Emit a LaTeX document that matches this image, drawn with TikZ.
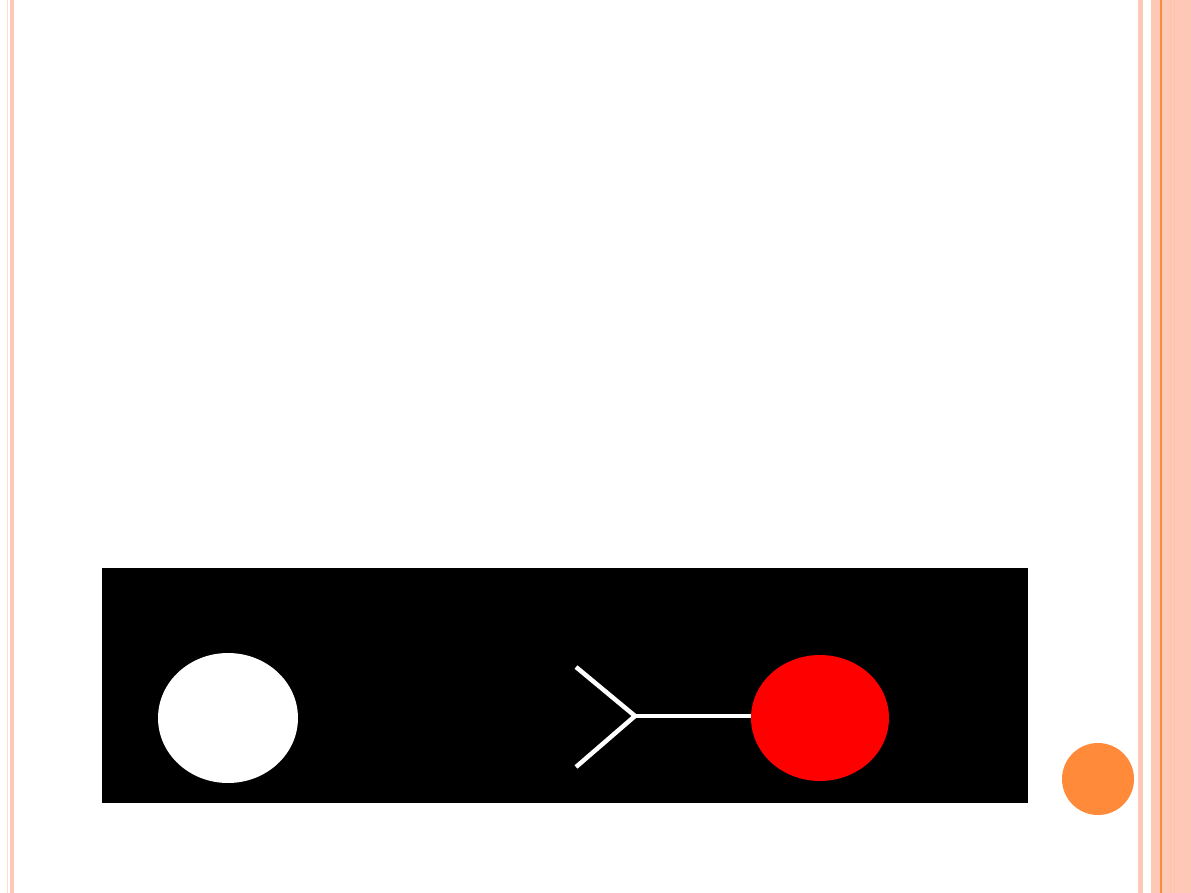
\documentclass[tikz,border=0pt]{standalone}
\usetikzlibrary{shapes.geometric}
\definecolor{rimpink}{RGB}{253,200,182}
\definecolor{rimorange}{RGB}{255,138,58}
\definecolor{dotred}{RGB}{255,0,0}

\begin{document}
\begin{tikzpicture}[x=0.02cm,y=-0.02cm]
        \useasboundingbox (0,0) rectangle (1191,893);
        \fill[white] (0,0) rectangle (1191,893);
        % slide frame
        \fill[rimpink!60] (7,0) rectangle (8,893);
        \fill[rimpink] (10,0) rectangle (14,893);
        \fill[rimpink] (1138,0) rectangle (1143,893);
        \fill[rimpink] (1151,0) rectangle (1191,893);
        \fill[rimorange] (1160,0) rectangle (1162,893);
        \foreach \x in {1170,1174}
        {
            \draw[rimpink!90!orange, line width=0.1pt] (\x,0) -- (\x,893);
        }
        \fill[rimorange] (1098,779) circle (36);
        % picture
        \fill[black] (102,568) rectangle (1028,803);
        \node[ellipse, fill=white, minimum width=2.8cm, minimum height=2.6cm, inner sep=0] (cell) at (228,718) {};
        \node[ellipse, fill=dotred, minimum width=2.76cm, minimum height=2.52cm, inner sep=0] (dot) at (820,718) {};
        \coordinate (fork) at (635,716);
        \coordinate (armup) at (576,667);
        \coordinate (armdown) at (576,767);
        \draw[white, line width=0.09cm] (armup) -- (fork) -- (armdown);
        \draw[white, line width=0.09cm] (fork) -- (fork -| dot.west);
\end{tikzpicture}
\end{document}
